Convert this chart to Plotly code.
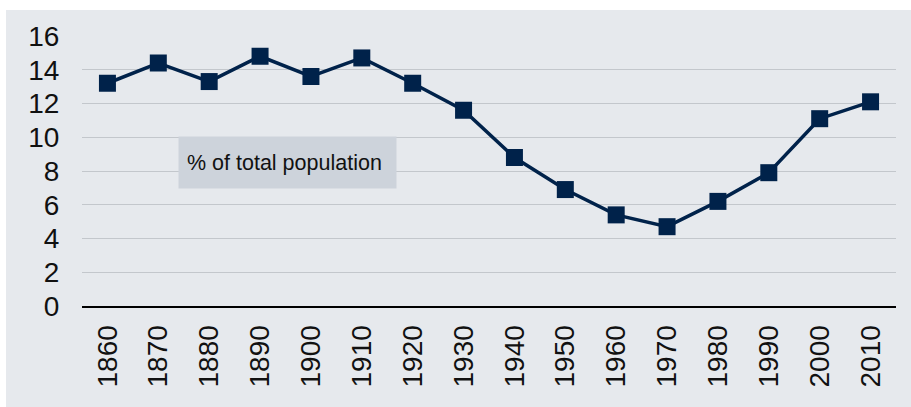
import plotly.graph_objects as go

years = ["1860", "1870", "1880", "1890", "1900", "1910", "1920", "1930",
         "1940", "1950", "1960", "1970", "1980", "1990", "2000", "2010"]
share = [13.2, 14.4, 13.3, 14.8, 13.6, 14.7, 13.2, 11.6,
         8.8, 6.9, 5.4, 4.7, 6.2, 7.9, 11.1, 12.1]
y_ticks = [0, 2, 4, 6, 8, 10, 12, 14, 16]
label_text = "% of total population"

W, H = 911, 407
ml, mr, mt, mb = 82, 15, 36, 101
pw, ph = W - ml - mr, H - mt - mb

def px_x(v):
    return (v - ml) / pw

def px_y(v):
    return (H - mb - v) / ph

navy = "#00224a"
panel = "#e6e9ed"

fig = go.Figure()
fig.add_trace(go.Scatter(
    x=years, y=share, mode="lines+markers",
    line=dict(color=navy, width=3.5),
    marker=dict(symbol="square", size=17, color=navy),
    showlegend=False, hoverinfo="x+y",
))

fig.update_layout(
    width=W, height=H,
    margin=dict(l=ml, r=mr, t=mt, b=mb, pad=0),
    paper_bgcolor="white",
    plot_bgcolor="rgba(0,0,0,0)",
    font=dict(family="Liberation Sans, Arial, sans-serif", size=28, color="#111111"),
    shapes=[
        dict(type="rect", xref="paper", yref="paper",
             x0=px_x(6), x1=px_x(911), y0=px_y(407), y1=px_y(10),
             fillcolor=panel, line=dict(width=0), layer="below"),
    ],
    annotations=[
        dict(xref="paper", yref="paper", x=px_x(178), y=px_y(136),
             xanchor="left", yanchor="top",
             text=label_text, showarrow=False,
             font=dict(size=21.5, color="#111111",
                       family="Liberation Sans, Arial, sans-serif"),
             bgcolor="#cdd3db", width=201, height=35,
             borderpad=8, align="left"),
    ],
)
fig.update_xaxes(
    type="category", tickangle=-90, showgrid=False, range=[-0.5, 15.5],
    showline=True, linecolor="#000000", linewidth=2,
    ticks="outside", ticklen=6, tickcolor="rgba(0,0,0,0)",
    tickfont=dict(size=28),
)
fig.update_yaxes(
    range=[0, 16], tickvals=y_ticks, showgrid=True,
    gridcolor="#c3c7cc", gridwidth=1, zeroline=False,
    ticks="outside", ticklen=16, tickcolor="rgba(0,0,0,0)",
    tickfont=dict(size=28),
)

fig.write_html("out.html")
